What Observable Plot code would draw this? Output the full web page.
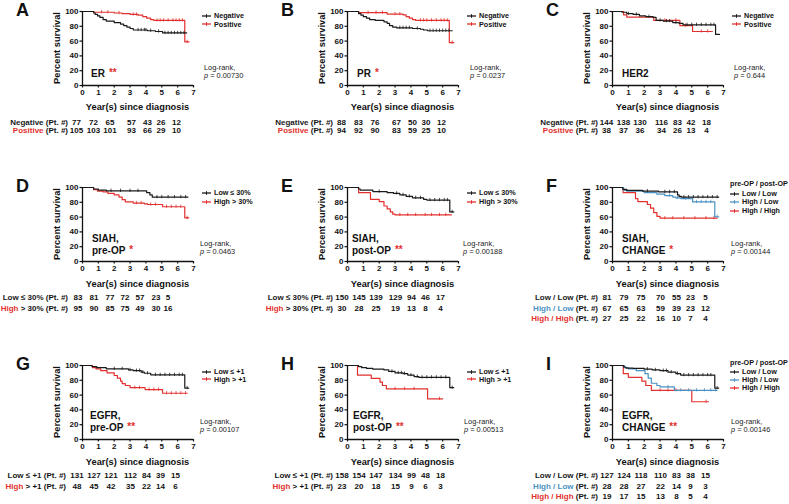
<!DOCTYPE html>
<html><head><meta charset="utf-8">
<script src="https://cdn.jsdelivr.net/npm/d3@7"></script>
<script src="https://cdn.jsdelivr.net/npm/@observablehq/plot@0.6"></script>
<style>
body{margin:0;background:#fff;font-family:"Liberation Sans",Arial,sans-serif;}
#fig{position:relative;width:789px;height:504px;overflow:hidden;background:#fff;color:#111;}
.t{position:absolute;white-space:nowrap;line-height:1;color:#111;}
</style></head><body><div id="fig"></div>
<script>
// ---------- tick labels ----------
const xTicks = [0,1,2,3,4,5,6,7];
const yTicks = [0,20,40,60,80,100];

// ---------- survival step curves [years, % survival] ----------
const A_neg = [[0,100],[0.7,98],[0.8,96],[0.95,94],[1.1,92],[1.3,89],[1.5,87],[2.0,85],[2.4,83],[2.6,81],[2.8,79],[3.0,77],[3.2,75],[4.1,74],[4.6,73],[5.05,71],[6.57,71]];
const A_pos = [[0,100],[0.72,99],[2.0,98],[2.5,97],[3.0,96],[3.5,95],[3.8,93],[4.05,91],[4.3,89],[4.5,88],[6.45,59],[6.72,59]];
const B_neg = [[0,100],[0.7,97],[0.85,95],[1.0,93],[1.2,91],[1.4,89],[1.75,88],[2.3,86],[2.5,84],[2.65,81],[2.85,79],[3.1,78],[4.1,77],[4.6,76],[4.8,75],[5.05,74],[6.6,74]];
const B_pos = [[0,100],[0.7,98.5],[2.5,96.5],[3.5,95.5],[3.7,93],[3.9,91],[4.1,89],[4.3,88],[6.42,58],[6.7,58]];
const C_neg = [[0,100],[0.6,99],[0.9,97],[1.3,96],[1.7,94],[2.1,93],[2.55,92],[2.75,88],[3.2,87],[3.8,85],[4.2,84],[4.45,82],[6.5,69],[6.75,69]];
const C_pos = [[0,100],[0.7,95.5],[0.9,92.5],[2.6,88],[4.25,81],[5.05,73],[6.3,73]];
const D_low = [[0,100],[0.7,98],[1.0,96.5],[1.5,95.5],[4.05,93],[4.25,90],[4.4,87],[6.65,87]];
const D_high = [[0,100],[0.7,97],[0.95,95],[1.3,94],[1.6,92],[2.0,90],[2.3,87],[2.5,83.5],[2.7,80.5],[3.2,79],[3.9,78],[4.1,77],[5.05,74],[6.45,59],[6.7,59]];
const E_low = [[0,100],[0.7,98],[0.8,96.5],[1.6,94.5],[2.5,93],[2.9,92],[3.3,90],[3.7,88],[4.1,86],[4.8,84],[5.0,83],[6.45,67],[6.7,67]];
const E_high = [[0,100],[0.7,93],[1.45,84],[2.0,81],[2.3,75],[2.5,71],[2.7,67],[2.85,64],[3.0,63],[6.55,63]];
const F_ll = [[0,100],[0.65,97.5],[0.9,96],[1.9,95],[2.9,94],[4.1,90],[4.2,88],[4.35,87],[6.7,87]];
const F_hl = [[0,100],[0.7,96],[0.9,95],[2.0,93],[2.8,91],[3.3,89],[3.8,87],[4.0,86],[4.3,85],[5.05,80.5],[6.45,60.5],[6.7,60.5]];
const F_hh = [[0,100],[0.67,93],[1.45,85],[1.6,81],[2.2,77],[2.4,72],[2.6,66],[2.8,61],[3.0,58.5],[6.6,58.5]];
const G_low = [[0,100],[0.6,98.5],[0.9,97],[1.5,95.5],[2.9,94],[3.2,93],[3.7,91],[3.9,89.5],[4.3,87.4],[6.45,69.5],[6.7,69.5]];
const G_high = [[0,100],[0.63,97],[0.85,95.5],[1.15,93],[1.55,90],[2.0,86.5],[2.2,83],[2.4,79],[2.5,75.5],[2.7,73],[3.0,70],[3.95,67.5],[5.05,62.5],[6.6,62.5]];
const H_low = [[0,100],[0.7,98.5],[0.9,97],[1.2,96],[1.6,95],[2.3,94],[2.6,92],[3.0,90],[3.5,89],[3.8,87],[4.2,85],[4.5,84],[6.45,70],[6.7,70]];
const H_high = [[0,100],[0.63,87],[1.5,82.5],[2.05,77.5],[2.2,73],[2.45,68.5],[5.05,55],[6.0,55]];
const I_ll = [[0,100],[0.7,98],[0.85,96.5],[1.3,96],[2.0,95],[2.5,94],[3.0,93],[3.5,91],[4.0,89],[4.3,87],[6.45,69.5],[6.7,69.5]];
const I_hl = [[0,100],[0.75,97],[1.0,95.5],[1.5,93],[2.05,89],[2.25,83],[2.45,76],[2.8,73],[3.0,71],[3.9,66.5],[6.6,66.5]];
const I_hh = [[0,100],[0.68,89],[1.0,84],[1.85,79],[2.1,73],[2.45,66.5],[5.0,51],[6.05,51]];

// ---------- censor marks (years) ----------
const A_negC = [3.5,3.7,3.9,4.0,4.3,4.8,5.2,5.4,5.6,5.8,6.0,6.2,6.4];
const A_posC = [1.2,1.6,2.3,3.2,3.4,4.7,4.9,5.1,5.4,5.7,5.9,6.1,6.3,6.6];
const B_negC = [3.3,3.5,3.7,3.9,4.4,5.2,5.4,5.6,5.8,6.0,6.2,6.4];
const B_posC = [1.3,1.8,2.2,3.0,3.3,4.6,4.8,5.0,5.3,5.6,5.9,6.1,6.3,6.6];
const C_negC = [1.0,1.5,2.3,3.0,3.4,3.6,4.0,4.7,5.0,5.3,5.6,5.9,6.2,6.4];
const C_posC = [3.3,4.0,4.6,5.6,6.0];
const D_lowC = [1.8,2.4,3.0,3.5,4.7,5.0,5.4,5.8,6.2,6.5];
const D_highC = [3.4,3.7,4.3,4.6,5.3,5.6,5.9,6.2,6.6];
const E_lowC = [2.0,3.1,3.5,3.9,4.3,4.6,5.2,5.5,5.8,6.1,6.3,6.6];
const E_highC = [3.3,3.8,4.3,4.9,5.3,5.8,6.2];
const F_llC = [2.2,3.3,3.6,3.9,4.5,4.8,5.1,5.4,5.7,6.0,6.3,6.6];
const F_hlC = [3.6,4.1,4.6,5.3,5.6,5.9,6.2,6.6];
const F_hhC = [3.3,3.8,4.5,5.2,5.9,6.4];
const G_lowC = [2.0,2.5,3.0,3.4,3.6,3.8,4.1,4.6,4.9,5.2,5.5,5.8,6.1,6.3,6.6];
const G_highC = [3.3,3.6,4.2,4.5,4.8,5.3,5.6,5.9,6.2,6.5];
const H_lowC = [2.8,3.2,3.4,3.6,4.0,4.4,4.7,5.0,5.3,5.6,5.9,6.2,6.6];
const H_highC = [3.0,3.6,4.2,5.8];
const I_llC = [2.2,2.7,3.2,3.4,3.7,4.1,4.5,4.8,5.1,5.4,5.7,6.0,6.2,6.6];
const I_hlC = [3.5,4.3,4.8,5.3,5.8,6.2,6.5];
const I_hhC = [3.0,3.5,4.0,5.9];

// ---------- patients at risk ----------
const A_nNeg = [77,72,65,57,43,26,12],   A_nPos = [105,103,101,93,66,29,10];
const B_nNeg = [88,83,76,67,50,30,12],   B_nPos = [94,92,90,83,59,25,10];
const C_nNeg = [144,138,130,116,83,42,18], C_nPos = [38,37,36,34,26,13,4];
const D_nLow = [83,81,77,72,57,23,5],    D_nHigh = [95,90,85,75,49,30,16];
const E_nLow = [150,145,139,129,94,46,17], E_nHigh = [30,28,25,19,13,8,4];
const F_nLL = [81,79,75,70,55,23,5], F_nHL = [67,65,63,59,39,23,12], F_nHH = [27,25,22,16,10,7,4];
const G_nLow = [131,127,121,112,84,39,15], G_nHigh = [48,45,42,35,22,14,6];
const H_nLow = [158,154,147,134,99,48,18], H_nHigh = [23,20,18,15,9,6,3];
const I_nLL = [127,124,118,110,83,38,15], I_nHL = [28,28,27,22,14,9,3], I_nHH = [19,17,15,13,8,5,4];

// ---------- text ----------
const pValues = ["0.00730","0.0237","0.644","0.0463","0.00188","0.00144","0.00107","0.00513","0.00146"];
const letters = ["A","B","C","D","E","F","G","H","I"];
const names = [["ER"],["PR"],["HER2"],["SIAH,","pre-OP"],["SIAH,","post-OP"],["SIAH,","CHANGE"],["EGFR,","pre-OP"],["EGFR,","post-OP"],["EGFR,","CHANGE"]];
const stars = ["**","*","","*","**","*","**","**","**"];

// ---------- styles / layout ----------
const COL = {k:"#1a1a1a", r:"#e2302e", b:"#4a91c3"};
const colX = [82, 347, 612];
const rowTop = [11, 187, 365];
const PW = 111, PH = 74;

const pn = (a,b)=>[[a,"k"],[b,"r"]];
const panels = [
 {curves:[[A_pos,A_posC,"r"],[A_neg,A_negC,"k"]], leg:pn("Negative","Positive"),
  risk:[["Negative"," (Pt. #)","k",A_nNeg],["Positive"," (Pt. #)","r",A_nPos]], nx:9, lx:122},
 {curves:[[B_pos,B_posC,"r"],[B_neg,B_negC,"k"]], leg:pn("Negative","Positive"),
  risk:[["Negative"," (Pt. #)","k",B_nNeg],["Positive"," (Pt. #)","r",B_nPos]], nx:10, lx:123},
 {curves:[[C_pos,C_posC,"r"],[C_neg,C_negC,"k"]], leg:pn("Negative","Positive"),
  risk:[["Negative"," (Pt. #)","k",C_nNeg],["Positive"," (Pt. #)","r",C_nPos]], nx:10, lx:122},
 {curves:[[D_high,D_highC,"r"],[D_low,D_lowC,"k"]], leg:pn("Low ≤ 30%","High > 30%"),
  risk:[["Low ≤ 30%"," (Pt. #)","k",D_nLow],["High"," > 30% (Pt. #)","r",D_nHigh]], nx:10, lx:118,
  cols:[-4,12,28,43,58,74,86]},
 {curves:[[E_high,E_highC,"r"],[E_low,E_lowC,"k"]], leg:pn("Low ≤ 30%","High > 30%"),
  risk:[["Low ≤ 30%"," (Pt. #)","k",E_nLow],["High"," > 30% (Pt. #)","r",E_nHigh]], nx:5, lx:116},
 {curves:[[F_hh,F_hhC,"r"],[F_hl,F_hlC,"b"],[F_ll,F_llC,"k"]], title:"pre-OP / post-OP",
  leg:[["Low / Low","k"],["High / Low","b"],["High / High","r"]],
  risk:[["Low / Low"," (Pt. #)","k",F_nLL],["High / Low"," (Pt. #)","b",F_nHL],["High / High"," (Pt. #)","r",F_nHH]], nx:10, lx:119},
 {curves:[[G_high,G_highC,"r"],[G_low,G_lowC,"k"]], leg:pn("Low ≤ +1","High > +1"),
  risk:[["Low ≤ +1"," (Pt. #)","k",G_nLow],["High"," > +1 (Pt. #)","r",G_nHigh]], nx:8, lx:118, rx:-16},
 {curves:[[H_high,H_highC,"r"],[H_low,H_lowC,"k"]], leg:pn("Low ≤ +1","High > +1"),
  risk:[["Low ≤ +1"," (Pt. #)","k",H_nLow],["High"," > +1 (Pt. #)","r",H_nHigh]], nx:6, lx:117},
 {curves:[[I_hh,I_hhC,"r"],[I_hl,I_hlC,"b"],[I_ll,I_llC,"k"]], title:"pre-OP / post-OP",
  leg:[["Low / Low","k"],["High / Low","b"],["High / High","r"]],
  risk:[["Low / Low"," (Pt. #)","k",I_nLL],["High / Low"," (Pt. #)","b",I_nHL],["High / High"," (Pt. #)","r",I_nHH]], nx:10, lx:119},
];

const fig = document.getElementById("fig");
const FONT = "'Liberation Sans', Arial, sans-serif";

function T(x, y, html, o = {}) {
  const d = document.createElement("div");
  d.className = "t";
  const fs = o.size || 8;
  d.style.fontSize = fs + "px";
  d.style.fontWeight = o.w || "bold";
  if (o.color) d.style.color = o.color;
  if (o.rot) {
    d.style.left = x + "px"; d.style.top = y + "px";
    d.style.transform = "translate(-50%,-50%) rotate(-90deg)";
  } else {
    d.style.top = (y - 0.49 * fs) + "px";
    if (o.align === "right") d.style.right = (789 - x) + "px";
    else if (o.align === "center") { d.style.left = x + "px"; d.style.transform = "translateX(-50%)"; }
    else d.style.left = x + "px";
  }
  d.innerHTML = html;
  fig.appendChild(d);
  return d;
}

function survAt(curve, t) {
  let s = curve[0][1];
  for (const [tt, ss] of curve) if (tt <= t) s = ss;
  return s;
}

const swatch = c => `<svg width="9" height="6" style="position:absolute;left:0;top:0"><line x1="0" x2="9" y1="3" y2="3" stroke="${c}" stroke-width="1.3"/><line x1="4.5" x2="4.5" y1="1.2" y2="4.8" stroke="${c}" stroke-width="1"/></svg>`;
const swSpan = c => `<span style="position:relative;display:inline-block;width:9px;height:6px;margin-right:3px;vertical-align:-0.5px">${swatch(c)}</span>`;

panels.forEach((P, i) => {
  const col = i % 3, row = Math.floor(i / 3);
  const ax = colX[col], top = rowTop[row];
  const ML = 32, MR = 8, MT = 4, MB = 16;

  const marks = [];
  P.curves.forEach(([curve, cens, c]) => {
    marks.push(Plot.line(curve, {x: d => d[0], y: d => d[1], curve: "step-after", stroke: COL[c], strokeWidth: 1.2}));
    marks.push(Plot.ruleX(cens, {x: t => t, y1: t => survAt(curve, t) - 2.2, y2: t => survAt(curve, t) + 2.2, stroke: COL[c], strokeWidth: 0.8}));
  });
  marks.push(
    Plot.axisX({ticks: xTicks, tickFormat: d => String(d), tickSize: 2.5, tickPadding: 1.5, label: null, strokeWidth: 1.2, stroke: "#111", fill: "#111"}),
    Plot.axisY({ticks: yTicks, tickFormat: d => String(d), tickSize: 2.5, tickPadding: 1.5, label: null, strokeWidth: 1.2, stroke: "#111", fill: "#111"}),
    Plot.ruleX([0], {stroke: "#111", strokeWidth: 1.3}),
    Plot.ruleY([0], {stroke: "#111", strokeWidth: 1.3})
  );

  const svg = Plot.plot({
    width: ML + PW + MR, height: MT + PH + MB,
    marginLeft: ML, marginRight: MR, marginTop: MT, marginBottom: MB,
    x: {domain: [0, 7]}, y: {domain: [0, 100]},
    style: {fontFamily: FONT, fontSize: "8px", fontWeight: "bold", background: "transparent", overflow: "visible", color: "#111"},
    marks
  });
  svg.style.position = "absolute";
  svg.style.left = (ax - ML) + "px";
  svg.style.top = (top - MT) + "px";
  svg.style.maxWidth = "none";
  fig.appendChild(svg);

  // panel letter
  T(ax - 66, top - 1, letters[i], {size: 18});
  // axis titles
  T(ax - 24, top + PH / 2, "Percent survival", {size: 9.3, rot: true});
  T(ax + PW / 2, top + (row === 0 ? 97 : 98), "Year(s) since diagnosis", {size: 9.3, align: "center"});

  // inner label
  const nm = names[i];
  const st = stars[i] ? `<span style="color:${COL.r};margin-left:4px;font-size:10px;position:relative;top:-1px">${stars[i]}</span>` : "";
  if (nm.length === 1) {
    T(ax + P.nx, top + 63, nm[0] + st, {size: 10});
  } else {
    const y0 = row === 1 ? 52 : 50.5;
    T(ax + P.nx, top + y0, nm[0], {size: 10});
    T(ax + P.nx, top + y0 + 12, nm[1] + st, {size: 10});
  }

  // log-rank
  T(ax + P.lx, top + 57, "Log-rank,", {size: 7.4, w: "normal", color: "#222"});
  T(ax + P.lx, top + 65, `<i>p</i> = ${pValues[i]}`, {size: 7.4, w: "normal", color: "#222"});

  // legend
  if (P.title) {
    T(ax + 118, top + (row === 1 ? -3 : -2), P.title, {size: 7.2});
    const legRows = row === 1 ? [7, 15, 24] : [7, 15, 23];
    P.leg.forEach(([lab, c], k) => T(ax + 118, top + legRows[k], swSpan(COL[c]) + lab, {size: 7.2}));
  } else {
    const legRows = row === 0 ? [5, 13.5] : row === 1 ? [6, 15] : [7, 14.5];
    P.leg.forEach(([lab, c], k) => T(ax + 120, top + legRows[k], swSpan(COL[c]) + lab, {size: 7.2}));
  }

  // risk table
  const cols = P.cols || (row === 0 ? [-5.5,11.5,28,49.5,65.5,79,94.5] : [-5,12,29,48.5,64.5,78.5,93.5]);
  const ry = row === 0 ? [112, 120.3] : [111, 121.5, 132];
  P.risk.forEach(([a, b, c, nums], k) => {
    const y = top + ry[k];
    T(ax + (P.rx || -14), y, `<span style="color:${COL[c]}">${a}</span>${b}`, {size: 8, align: "right"});
    nums.forEach((n, j) => T(ax + cols[j], y, String(n), {size: 8, align: "center"}));
  });
});
</script></body></html>
